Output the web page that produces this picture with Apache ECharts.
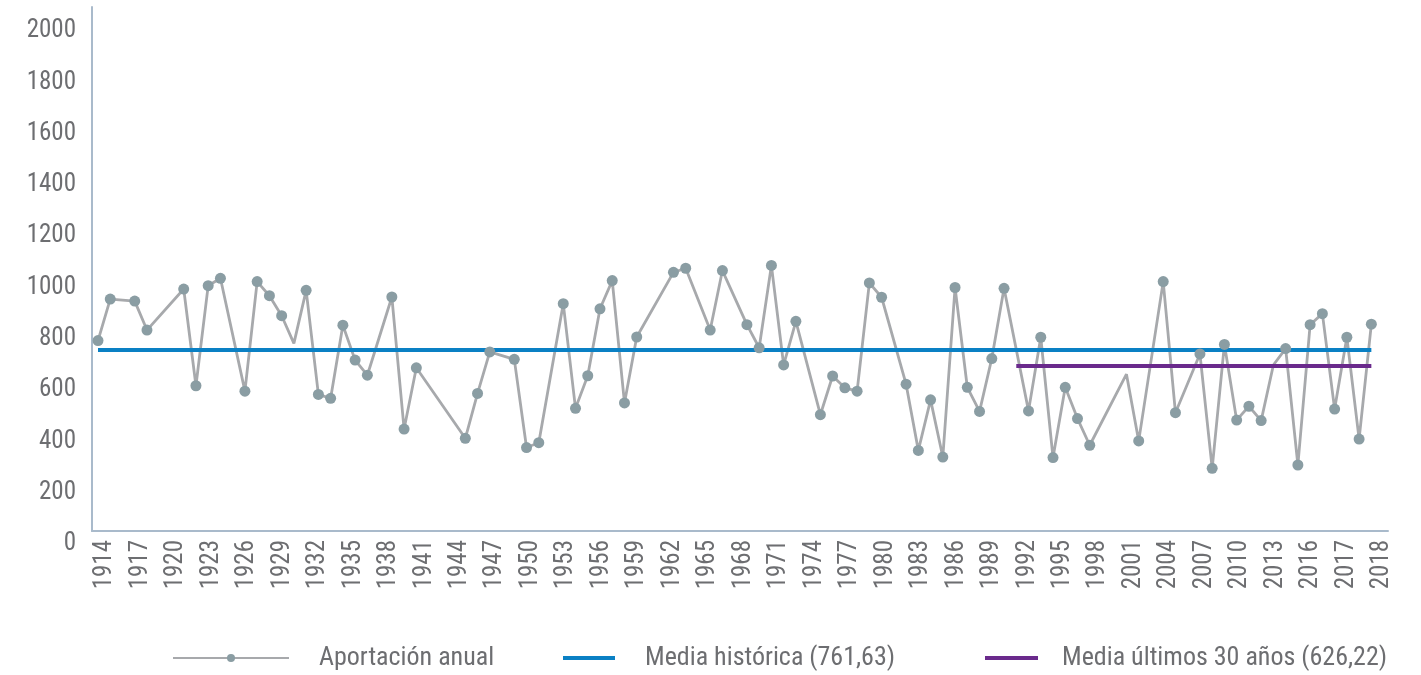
<!DOCTYPE html>
<html>
<head>
<meta charset="utf-8">
<script src="https://cdn.jsdelivr.net/npm/echarts@6/dist/echarts.min.js"></script>
<style>
  html, body { margin: 0; padding: 0; background: #ffffff; }
  #chart { width: 1421px; height: 675px; }
</style>
</head>
<body>
<div id="chart"></div>
<script>
// años con dato (los huecos del gráfico original se unen con una recta)
const years = [1914, 1915, 1917, 1918, 1921, 1922, 1923, 1924, 1926, 1927, 1928, 1929, 1930, 1931,
  1932, 1933, 1934, 1935, 1936, 1938, 1939, 1940, 1944, 1945, 1946, 1948, 1949, 1950, 1952, 1953,
  1954, 1955, 1956, 1957, 1958, 1961, 1962, 1964, 1965, 1967, 1968, 1969, 1970, 1971, 1973, 1974,
  1975, 1976, 1977, 1978, 1980, 1981, 1982, 1983, 1984, 1985, 1986, 1987, 1988, 1990, 1991, 1992,
  1993, 1994, 1995, 1998, 1999, 2001, 2002, 2004, 2005, 2006, 2007, 2008, 2009, 2010, 2011, 2012,
  2013, 2014, 2015, 2016, 2017, 2018];
// aportación anual
const values = [793, 955, 947, 834, 994, 617, 1007, 1036, 596, 1023, 968, 890, 782, 989,
  583, 568, 853, 717, 658, 963, 448, 687, 412, 587, 749, 720, 376, 395, 937, 529,
  656, 917, 1027, 550, 807, 1059, 1075, 834, 1066, 855, 765, 1086, 698, 868, 504, 655,
  609, 596, 1018, 962, 623, 365, 562, 339, 1000, 611, 517, 723, 997, 519, 806, 337,
  611, 489, 385, 662, 402, 1023, 512, 741, 295, 778, 483, 537, 481, 698, 762, 308,
  855, 898, 526, 806, 409, 857];
// vértices sin marcador
const noMarkerYears = [1930, 1998, 2010];

// etiquetas del eje horizontal tal como aparecen
const axisYearLabels = ['1914', '1917', '1920', '1923', '1926', '1929', '1932', '1935', '1938',
  '1941', '1944', '1947', '1950', '1953', '1956', '1959', '1962', '1965', '1968', '1971', '1974',
  '1977', '1980', '1983', '1986', '1989', '1992', '1995', '1998', '2001', '2004', '2007', '2010',
  '2013', '2016', '2017', '2018'];

// medias (nivel dibujado)
const mediaHistoricaYears = [1914, 2018];
const mediaHistorica = 756;
const media30Years = [1989, 2018];
const media30 = 694;

const seriesNames = ['Aportación anual', 'Media histórica (761,63)', 'Media últimos 30 años (626,22)'];

const FONT = "'Liberation Sans Narrow', 'Roboto Condensed', 'DejaVu Sans Condensed', sans-serif";
const TEXT = '#6d6e71';
const AXIS = '#a9bacb';
const GRAY = '#a7a9ac';
const MARKER = '#8a9da3';
const BLUE = '#0a80c4';
const PURPLE = '#6a2a8c';

const chartInstance = echarts.init(document.getElementById('chart'));

const lineData = years.map((y, i) => [y, values[i]]);
const markerData = lineData.filter(d => noMarkerYears.indexOf(d[0]) < 0);

const legendText = (pad) => ({
  color: TEXT,
  fontSize: 26,
  fontFamily: FONT,
  padding: [0, 0, 0, pad],
});

const option = {
  animation: false,
  backgroundColor: '#ffffff',
  legend: [
    {
      data: [seriesNames[0]],
      left: 172, top: 645, padding: 0,
      itemWidth: 116, itemHeight: 10,
      selectedMode: false,
      textStyle: legendText(25),
    },
    {
      data: [seriesNames[1]],
      left: 563, top: 645, padding: 0,
      icon: 'rect', itemWidth: 52, itemHeight: 4,
      selectedMode: false,
      textStyle: legendText(25),
    },
    {
      data: [seriesNames[2]],
      left: 985, top: 645, padding: 0,
      icon: 'rect', itemWidth: 53, itemHeight: 4,
      selectedMode: false,
      textStyle: legendText(19),
    },
  ],
  grid: [
    { left: 92, right: 33, top: 31, bottom: 131 },  // datos
    { left: 92, right: 33, top: 7, bottom: 144 },   // marco de ejes
    { left: 105, right: 39, top: 7, bottom: 144 },  // etiquetas de años
  ],
  xAxis: [
    { type: 'value', gridIndex: 0, min: 1913.51, max: 2019.36, show: false },
    {
      type: 'value', gridIndex: 1, min: 0, max: 1,
      axisLine: { show: true, onZero: false, lineStyle: { color: AXIS, width: 2 } },
      axisTick: { show: false }, axisLabel: { show: false }, splitLine: { show: false },
    },
    {
      type: 'category', gridIndex: 2, boundaryGap: false, data: axisYearLabels,
      axisLine: { show: false }, axisTick: { show: false }, splitLine: { show: false },
      axisLabel: { rotate: 90, interval: 0, margin: 9, color: TEXT, fontSize: 25, fontFamily: FONT },
    },
  ],
  yAxis: [
    {
      type: 'value', gridIndex: 0, min: 0, max: 2000, interval: 200,
      axisLine: { show: false }, axisTick: { show: false }, splitLine: { show: false },
      axisLabel: {
        margin: 16, color: TEXT, fontSize: 25, fontFamily: FONT,
        formatter: (v) => String(v),
      },
    },
    {
      type: 'value', gridIndex: 1, min: 0, max: 1,
      axisLine: { show: true, onZero: false, lineStyle: { color: AXIS, width: 2 } },
      axisTick: { show: false }, axisLabel: { show: false }, splitLine: { show: false },
    },
    { type: 'value', gridIndex: 2, min: 0, max: 1, show: false },
  ],
  series: [
    {
      name: seriesNames[0],
      type: 'line',
      xAxisIndex: 0, yAxisIndex: 0,
      data: lineData,
      symbol: 'circle', symbolSize: 11, showSymbol: false,
      lineStyle: { color: GRAY, width: 2.8 },
      itemStyle: { color: MARKER },
      z: 2,
    },
    {
      name: seriesNames[1],
      type: 'line',
      xAxisIndex: 0, yAxisIndex: 0,
      data: mediaHistoricaYears.map(y => [y, mediaHistorica]),
      symbol: 'none',
      lineStyle: { color: BLUE, width: 4 },
      itemStyle: { color: BLUE },
      z: 3,
    },
    {
      name: seriesNames[2],
      type: 'line',
      xAxisIndex: 0, yAxisIndex: 0,
      data: media30Years.map(y => [y, media30]),
      symbol: 'none',
      lineStyle: { color: PURPLE, width: 4 },
      itemStyle: { color: PURPLE },
      z: 3,
    },
    {
      name: 'marcadores',
      type: 'scatter',
      xAxisIndex: 0, yAxisIndex: 0,
      data: markerData,
      symbol: 'circle', symbolSize: 11,
      itemStyle: { color: MARKER, opacity: 1 },
      z: 4,
    },
  ],
};

chartInstance.setOption(option);
</script>
</body>
</html>
